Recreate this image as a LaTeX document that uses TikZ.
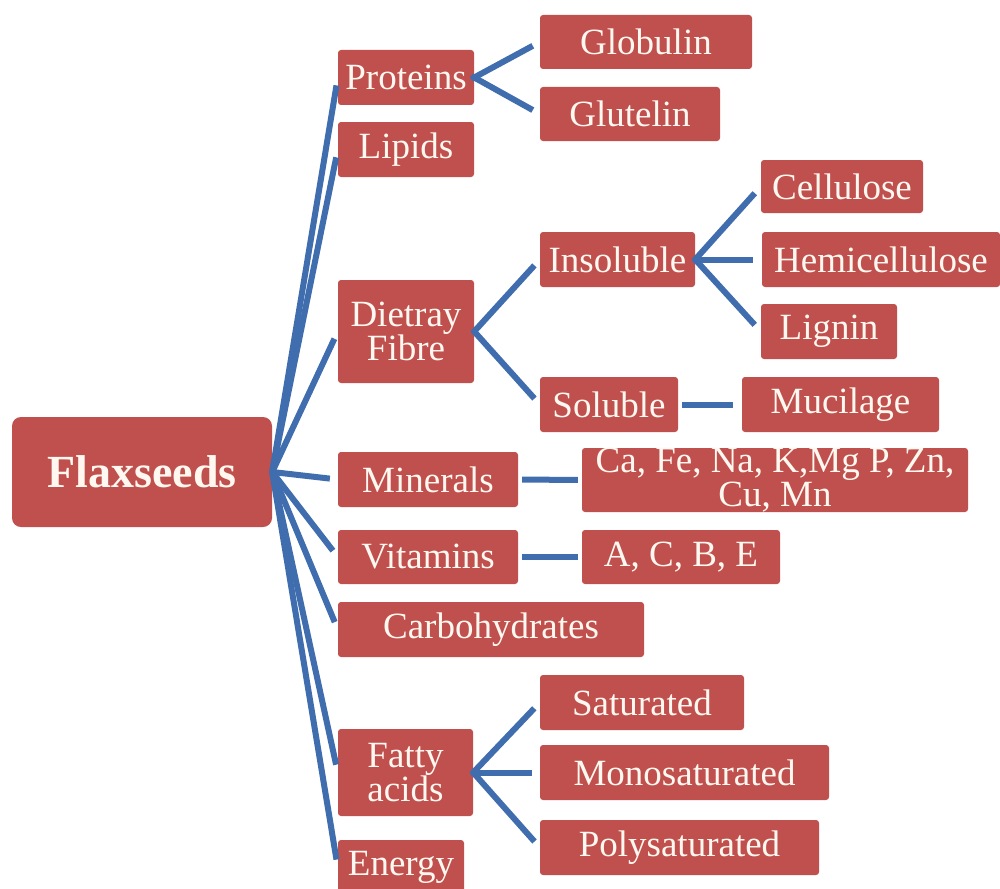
\documentclass[tikz,border=0pt]{standalone}
\usepackage{fontspec}
\setmainfont{Liberation Serif}
\definecolor{boxred}{HTML}{C0504D}
\definecolor{linkblue}{HTML}{3F6DAE}
\definecolor{boxtext}{HTML}{FFF8F0}
\begin{document}
\begin{tikzpicture}[x=1pt,y=-1pt,
  box/.style={fill=boxred, rounded corners=3pt, text=boxtext, inner sep=0pt,
    align=center, font=\fontsize{37}{33}\selectfont},
  rootbox/.style={box, rounded corners=9pt, font=\fontsize{46}{46}\selectfont\bfseries},
  link/.style={draw=linkblue, line width=6pt},
  sz/.style 2 args={minimum width=#1pt, minimum height=#2pt}]
\useasboundingbox (0,0) rectangle (1000,888);
% nodes
\node[rootbox, sz={260}{110}] (root) at (142,472) {Flaxseeds};
\node[box, sz={136}{55}] (prot) at (406,77.5) {Proteins};
\node[box, sz={212}{54}] (glob) at (646,42) {Globulin};
\node[box, sz={180}{54}] (glut) at (630,114) {Glutelin};
\node[box, sz={136}{55}] (lip) at (406,149.5) {Lipids};
\node[box, sz={136}{103}] (diet) at (406,331.5) {Dietray\\Fibre};
\node[box, sz={155}{55}] (insol) at (617.5,259.5) {Insoluble};
\node[box, sz={138}{55}] (sol) at (609,404.5) {Soluble};
\node[box, sz={162}{53}] (cell) at (842,186.5) {Cellulose};
\node[box, sz={238}{55}] (hemi) at (881,259.5) {Hemicellulose};
\node[box, sz={136}{55}] (lign) at (829,331.5) {Lignin};
\node[box, sz={197}{55}] (muc) at (840.5,404.5) {Mucilage};
\node[box, sz={180}{55}] (min) at (428,479.5) {Minerals};
\node[box, sz={386}{64}, font=\fontsize{37}{27}\selectfont] (minl) at (775,480) {Ca, Fe, Na, K,Mg P, Zn,\\Cu, Mn};
\node[box, sz={180}{54}] (vit) at (428,557) {Vitamins};
\node[box, sz={198}{54}] (vitl) at (681,557) {A, C, B, E};
\node[box, sz={306}{55}] (carb) at (491,629.5) {Carbohydrates};
\node[box, sz={204}{55}] (sat) at (642,702.5) {Saturated};
\node[box, sz={135}{87}] (fat) at (405.5,772.5) {Fatty\\acids};
\node[box, sz={289}{55}] (mono) at (684.5,772.5) {Monosaturated};
\node[box, sz={279}{55}] (poly) at (679.5,847.5) {Polysaturated};
\node[box, sz={126}{55}] (en) at (401,867.5) {Energy};
% root fan
\foreach \c in {prot,lip,diet,min,vit,carb,fat,en}
  \draw[link, shorten >=8pt] (root.east) -- (\c.west);
% sub connectors
\foreach \c in {glob,glut}
  \draw[link, shorten >=8pt, shorten <=-3pt] (prot.east) -- (\c.west);
\foreach \c in {insol,sol}
  \draw[link, shorten >=8pt, shorten <=-2pt] (diet.east) -- (\c.west);
\foreach \c in {cell,hemi,lign}
  \draw[link, shorten >=9pt, shorten <=-2pt] (insol.east) -- (\c.west);
\draw[link, shorten >=9pt, shorten <=4pt] (sol.east) -- (muc.west);
\draw[link, shorten >=4pt, shorten <=4pt] (min.east) -- (minl.west);
\draw[link, shorten >=4pt, shorten <=4pt] (vit.east) -- (vitl.west);
\foreach \c in {sat,mono,poly}
  \draw[link, shorten >=8pt, shorten <=-2pt] (fat.east) -- (\c.west);
\end{tikzpicture}
\end{document}
